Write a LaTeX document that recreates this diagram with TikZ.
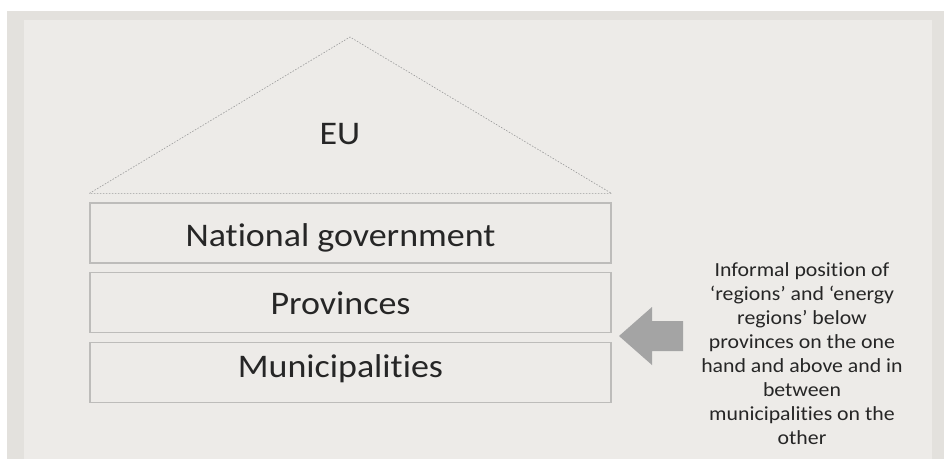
\documentclass[tikz,border=0pt]{standalone}
\usepackage{fontspec}
\setmainfont{Carlito}[Ligatures=NoCommon]
\usetikzlibrary{positioning}
\definecolor{framegray}{HTML}{E3E1DD}
\definecolor{panelgray}{HTML}{EDEBE8}
\definecolor{linegray}{HTML}{BDBCBA}
\definecolor{roofgray}{HTML}{9A9A9A}
\definecolor{arrowgray}{HTML}{A4A4A4}
\newcommand{\widetext}[1]{\scalebox{1.09}[1]{#1}}
\newcommand{\tiertext}[2][0pt]{\raisebox{#1}{\widetext{#2}}\hspace*{20pt}}
\tikzset{
  tier/.style={draw=linegray, line width=1.2pt, minimum width=521pt, minimum height=60pt,
    inner sep=0pt, text height=21pt, text depth=0pt,
    font=\fontsize{33}{38}\selectfont, text=black!85},
}
\begin{document}
\begin{tikzpicture}[x=1pt,y=-1pt]
  % background
  \useasboundingbox (0,0) rectangle (944,459);
  \fill[framegray] (7,11) rectangle (944,459);
  \fill[panelgray] (24,20) rectangle (932,459);

  % tiers
  \node[tier] (natgov) at (350.5,233) {\tiertext[-3pt]{National government}};
  \node[tier, below=8pt of natgov] (prov) {\tiertext[-1.5pt]{Provinces}};
  \node[tier, below=9pt of prov] (muni) {\tiertext[5pt]{Municipalities}};

  % roof
  \coordinate (eaveL) at ([yshift=9pt]natgov.north west);
  \coordinate (eaveR) at ([yshift=9pt]natgov.north east);
  \coordinate (apex) at (350,37);
  \draw[roofgray, line width=0.6pt, dash pattern=on 1.5pt off 1.5pt] (eaveL) -- (apex) -- (eaveR) -- cycle;
  \node[font=\fontsize{33}{38}\selectfont, text=black!85, text height=21pt, text depth=0pt]
    (eu) at (340,133.5) {\widetext{EU}};

  % note and arrow
  \node[align=center, font=\fontsize{20}{24}\selectfont, text=black!85] (note) at (802,354)
    {\widetext{Informal position of}\\ \widetext{‘regions’ and ‘energy}\\ \widetext{regions’ below}\\
     \widetext{provinces on the one}\\ \widetext{hand and above and in}\\ \widetext{between}\\
     \widetext{municipalities on the}\\ \widetext{other}};
  \fill[arrowgray] (619,336) -- (652,307) -- (652,321) -- (683,321) -- (683,351)
    -- (652,351) -- (652,365) -- cycle;
\end{tikzpicture}
\end{document}
